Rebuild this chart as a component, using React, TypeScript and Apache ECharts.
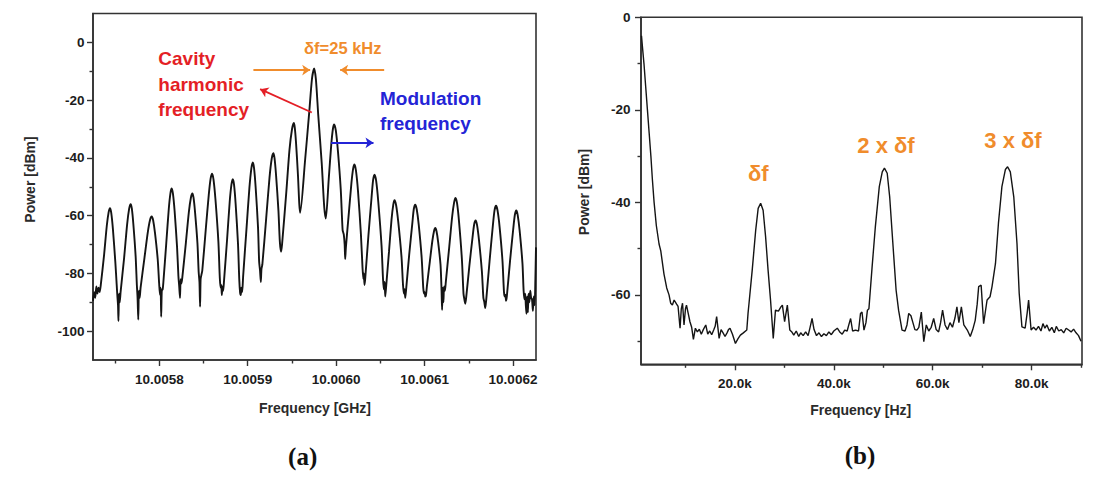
import { useEffect, useRef } from "react";
import * as echarts from "echarts";

// ---- Panel (a): RF spectrum around the cavity harmonic ----
// x values are kHz above 10 GHz, y values are dBm
const leftXTicks = ["10.0058", "10.0059", "10.0060", "10.0061", "10.0062"];
const leftXMinor = [5750, 5850, 5950, 6050, 6150];
const leftYTicks = [0, -20, -40, -60, -80, -100];
const leftYMinor = [-10, -30, -50, -70, -90];

const leftTrace: [number, number][] = [
  [5725, -89.5], [5726.3, -86.5], [5727.5, -88.5], [5728.8, -84.5], [5730, -87], [5731.3, -85], [5732.5, -86.5], [5733.8, -84],
  [5737.6, -73.4], [5740.6, -63.5], [5742.7, -58.8], [5744.2, -57.4], [5745.6, -59], [5747.5, -64.6], [5750.3, -76.3],
  [5751.8, -84], [5752.6, -88], [5753.3, -91], [5753.8, -96.5], [5754.4, -87], [5755.2, -90], [5756.2, -86.5],
  [5760.2, -74.6], [5763.6, -63], [5765.9, -57.6], [5767.6, -56], [5768.9, -57.5], [5770.6, -62.8], [5773.2, -74],
  [5774.6, -84], [5775.4, -88.5], [5776.2, -96], [5776.9, -86], [5777.8, -88.5], [5778.8, -85],
  [5783.2, -74.6], [5787.0, -65.7], [5789.5, -61.5], [5791.4, -60.3], [5793.0, -61.6], [5795.1, -66], [5798.2, -75.2],
  [5799.8, -83.5], [5800.8, -87.5], [5801.5, -85], [5802.1, -95], [5802.8, -86], [5803.8, -85.5], [5804.6, -83],
  [5807.9, -69.4], [5810.7, -57.7], [5812.6, -52.2], [5814, -50.6], [5815.4, -52.4], [5817.3, -58.4], [5820.1, -71.1],
  [5821.6, -81], [5822.5, -84.5], [5823.4, -88.5], [5824.1, -82], [5825, -83.5], [5826, -81.5],
  [5830, -69.5], [5833.4, -58.8], [5835.7, -53.8], [5837.4, -52.3], [5838.7, -53.8], [5840.4, -58.8], [5843.1, -69.5],
  [5844.5, -79.5], [5845.4, -83], [5846.1, -91.5], [5846.7, -82], [5847.6, -80.5], [5848.6, -79],
  [5852.5, -64.9], [5855.9, -52.9], [5858, -47.2], [5859.7, -45.5], [5861.3, -47.5], [5863.5, -54.4], [5866.8, -69],
  [5868.4, -81.5], [5869.4, -85], [5870.1, -84], [5870.7, -87.5], [5871.4, -84.5], [5872.2, -86], [5873.2, -82.5],
  [5876.7, -68], [5879.6, -55.2], [5881.6, -49.2], [5883.1, -47.4], [5884.5, -49.3], [5886.3, -55.9], [5889, -69.8],
  [5890.4, -82], [5891.3, -86.5], [5892.1, -87.5], [5892.8, -85], [5893.7, -86.5], [5894.8, -81],
  [5898.6, -64.5], [5901.9, -50.3], [5904.1, -43.6], [5905.7, -41.6], [5907.1, -43.5], [5908.9, -50], [5911.6, -63.9],
  [5912.9, -76], [5913.9, -79], [5914.8, -83], [5915.5, -78.5], [5916.5, -77],
  [5920.9, -60.8], [5924.6, -46.9], [5927.1, -40.3], [5929, -38.4], [5930.3, -40.1], [5932, -45.9], [5934.7, -58.2],
  [5936.3, -69], [5937.7, -72.5], [5938.8, -70],
  [5943.5, -52.3], [5947.2, -37.2], [5950.1, -30], [5952.1, -27.9], [5953.2, -29.5], [5954.6, -34.7], [5956.8, -46],
  [5958.3, -56], [5959.3, -59],
  [5964.8, -41], [5969.6, -24], [5972.7, -12.5], [5975.1, -9], [5977.1, -12.8], [5979.7, -25], [5983.7, -42],
  [5986.5, -57], [5988.3, -61],
  [5991.6, -47.3], [5994.4, -35.6], [5996.3, -30], [5997.7, -28.4], [5999.6, -30.5], [6002.1, -38], [6005.2, -51],
  [6007.3, -65], [6008.6, -66.5], [6009.6, -70], [6010.2, -75], [6011, -71],
  [6014.4, -58.9], [6017.3, -48.6], [6019.2, -43.7], [6020.7, -42.3], [6022.4, -44.4], [6024.7, -51.5], [6028, -66.5],
  [6029.8, -78], [6030.8, -82], [6031.4, -80], [6032, -84], [6032.8, -82],
  [6036.5, -66.8], [6040, -53.8], [6041.8, -47.6], [6043.4, -45.8], [6045.2, -47.9], [6047.6, -55.1], [6051.3, -70.3],
  [6053, -82], [6054, -85.5], [6054.8, -83], [6055.5, -88], [6056.4, -85],
  [6059.8, -72.3], [6062.6, -61.4], [6064.6, -56.2], [6066, -54.7], [6067.8, -56.4], [6070.2, -62.1], [6073.9, -74.3],
  [6075.6, -84], [6076.6, -87], [6077.4, -85.5], [6078.1, -88.5], [6079, -86],
  [6082.6, -73.5], [6086.1, -62.8], [6087.8, -57.7], [6089.4, -56.2], [6091.1, -57.8], [6093.4, -63.2], [6096.7, -74.6],
  [6098.5, -85], [6099.5, -87], [6100.2, -86.5], [6100.7, -88], [6101.6, -87.5], [6102.6, -84.5],
  [6105.9, -76], [6108.8, -68.7], [6110.7, -65.3], [6112.1, -64.3], [6113.5, -65.4], [6115.3, -69.1], [6118, -76.9],
  [6119.2, -86], [6119.8, -92.7], [6120.5, -85], [6121.3, -90], [6122, -84.5], [6123, -86], [6124, -83],
  [6127.9, -70.8], [6131.2, -60.3], [6133.4, -55.4], [6135, -53.9], [6136.7, -55.7], [6138.9, -61.9], [6142.2, -75.1],
  [6144, -87], [6145, -89], [6146, -90.5], [6147, -88.5],
  [6150.7, -77.2], [6154.2, -67.6], [6156.1, -63], [6157.7, -61.7], [6159.3, -63.2], [6161.5, -68.4], [6164.8, -79.3],
  [6166.5, -88.5], [6167.6, -90], [6168.6, -92], [6169.6, -89.5],
  [6173.5, -75.7], [6177.1, -63.8], [6179.1, -58.2], [6180.8, -56.6], [6182.5, -58.2], [6184.8, -63.8], [6188.1, -75.7],
  [6189.8, -86.5], [6190.8, -88], [6191.5, -87.5], [6192.1, -89.5], [6193, -88],
  [6196.7, -75.5], [6200.2, -64.8], [6202.1, -59.7], [6203.7, -58.2], [6205.3, -59.8], [6207.5, -65.2], [6210.7, -76.6],
  [6212, -86], [6213, -89], [6213.8, -87], [6214.5, -91], [6215.2, -94], [6216, -88], [6216.8, -93.5], [6217.6, -87],
  [6218.5, -90], [6219.5, -86], [6220.5, -88.5], [6221.5, -89], [6222.5, -93], [6223.5, -88], [6224.5, -91],
  [6225.3, -82], [6226, -71],
];

// Annotation arrows of panel (a), in data units [kHz above 10 GHz, dBm]
const spacingArrowLeft: [number, number][] = [[5906.4, -9.6], [5970.6, -9.6]];
const spacingArrowRight: [number, number][] = [[6054.3, -9.6], [6004.5, -9.6]];
const cavityArrow: [number, number][] = [[5972.5, -24.3], [5914, -16.2]];
const modulationArrow: [number, number][] = [[5994.3, -34.8], [6042.2, -34.8]];

// ---- Panel (b): low-frequency spectrum, Hz vs dBm ----
const rightXTicks = ["20.0k", "40.0k", "60.0k", "80.0k"];
const rightXMinor = [10000, 30000, 50000, 70000, 90000];
const rightYTicks = [0, -20, -40, -60];
const rightYMinor = [-10, -30, -50, -70];

const rightTrace: [number, number][] = [
  [1100, -4], [1300, -6.5], [1600, -10], [1950, -15], [2300, -20], [2650, -25], [3000, -30], [3300, -35], [3650, -40],
  [4100, -45], [4650, -49], [5000, -50.5], [5650, -55.5], [6200, -58.5], [6670, -60], [7000, -61.8], [7350, -62.2],
  [7700, -61.1], [8200, -62], [8500, -62.5], [8900, -67.2], [9150, -63], [9400, -61.8], [9700, -66.5], [10000, -63],
  [10200, -62.2], [10550, -64], [10900, -65.8], [11250, -67], [11600, -69.6], [12000, -67.2], [12400, -68], [12800, -67.4],
  [13200, -68.5], [13600, -67.5], [14100, -66.5], [14500, -68.5], [14900, -67.8], [15300, -68.6], [15700, -67.6],
  [16000, -66.8], [16300, -64.7], [16800, -69.4], [17200, -67.5], [17600, -68.2], [18000, -69], [18400, -68.2],
  [18700, -67.5], [19000, -67.2], [19500, -68.5], [20100, -70.5], [20600, -69.5], [21100, -68.7], [21700, -68.2],
  [22400, -67.6], [22650, -64], [22850, -61.8], [23500, -54.6], [24200, -46], [24700, -41.3], [25200, -40.2],
  [25700, -41.7], [26200, -47.4], [26700, -54.6], [27200, -61.1], [27750, -69.4], [28200, -63.3], [28800, -63.5],
  [29300, -62.6], [29600, -62.2], [30050, -65.8], [30600, -62.2], [31100, -67.6], [31500, -68], [31900, -68.7],
  [32400, -67.8], [32900, -69], [33300, -68.2], [33800, -68.8], [34300, -68], [34800, -68.8], [35200, -67],
  [35600, -65.1], [36000, -67.5], [36500, -68.8], [37000, -68.2], [37500, -69], [38000, -68.4], [38500, -68.8],
  [39000, -68], [39500, -68.6], [40000, -67.8], [40700, -67.2], [41200, -68], [41700, -68.5], [42200, -67.6],
  [42700, -67.8], [43100, -66.2], [43400, -65.1], [43800, -67.8], [44400, -67.6], [45000, -67.8], [45400, -64],
  [45700, -63.7], [46100, -67.6], [46500, -66], [46800, -63.3], [47100, -63], [47750, -53.9], [48400, -45.3],
  [49200, -36.6], [49800, -33.4], [50240, -32.6], [50800, -33.7], [51300, -38.8], [51900, -48.2], [52600, -59],
  [53100, -63.3], [53800, -67.6], [54400, -67.8], [54800, -66.5], [55150, -64], [55600, -64.5], [56000, -66],
  [56400, -67.5], [56800, -67.6], [57200, -67], [57700, -63.7], [58200, -70.1], [58700, -66.5], [59200, -67.8],
  [59700, -67], [60200, -65.1], [60700, -67.5], [61200, -68], [61600, -66], [62000, -63.3], [62500, -66.5],
  [63000, -67.5], [63500, -66], [64000, -67], [64500, -65], [64900, -62.6], [65300, -66], [65800, -62.6],
  [66300, -66.5], [67000, -67.6], [67600, -69], [68100, -67.5], [68600, -65.5], [69000, -62], [69300, -58.2],
  [69800, -57.9], [70300, -66.2], [71000, -61.1], [71600, -60.4], [72000, -58.2], [72700, -53.2], [73300, -44.5],
  [74000, -36.6], [74700, -32.9], [75150, -32.3], [75700, -33.4], [76400, -38.8], [77050, -48.9], [77500, -59.7],
  [78050, -66.9], [78700, -67.2], [79100, -64], [79400, -61.1], [79900, -67.6], [80400, -67], [80900, -67.6],
  [81400, -66.8], [81900, -67.8], [82300, -66.2], [82700, -67.2], [83100, -66.5], [83600, -67.8], [84100, -67],
  [84600, -68.2], [85000, -66.8], [85500, -67.8], [86000, -67.5], [86500, -68.2], [87000, -67.2], [87500, -67.6],
  [88000, -68], [88500, -67.4], [89000, -68.2], [89500, -68.8], [90000, -70],
];

const AXIS_COLOR = "#333333";
const LABEL_COLOR = "#1c1c1c";
const SANS = '"Liberation Sans", Arial, sans-serif';
const SERIF = '"Liberation Serif", "Times New Roman", serif';
const ORANGE = "#f08c2c";
const RED = "#e41f26";
const BLUE = "#2424d6";

const leftXValues = leftXTicks.map((s) => Math.round((parseFloat(s) - 10) * 1e6));
const rightXValues = rightXTicks.map((s) => parseFloat(s) * 1000);

const labelStyle = {
  color: LABEL_COLOR,
  fontFamily: SANS,
  fontWeight: "bold" as const,
  fontSize: 13.5,
};

function majorAxis(
  gridIndex: number,
  position: string,
  min: number,
  max: number,
  values: number[],
  margin: number,
  formatter?: (v: number) => string,
) {
  return {
    type: "value",
    gridIndex,
    position,
    min,
    max,
    axisLine: { show: true, onZero: false, lineStyle: { color: AXIS_COLOR, width: 1.6 } },
    axisTick: { show: true, customValues: values, length: 6, lineStyle: { color: AXIS_COLOR, width: 1.4 } },
    axisLabel: { customValues: values, margin, formatter, ...labelStyle },
    splitLine: { show: false },
  };
}

// A second axis on the same side that only carries the short intermediate ticks
function minorAxis(gridIndex: number, position: string, min: number, max: number, values: number[]) {
  return {
    type: "value",
    gridIndex,
    position,
    min,
    max,
    axisLine: { show: false, onZero: false },
    axisTick: { show: true, customValues: values, length: 3.5, lineStyle: { color: AXIS_COLOR, width: 1.4 } },
    axisLabel: { show: false },
    splitLine: { show: false },
  };
}

function text(x: number, y: number, str: string, font: string, fill: string, align = "center", rotation = 0) {
  return {
    type: "text",
    x,
    y,
    rotation,
    silent: true,
    style: {
      text: str,
      font,
      fill,
      align,
      verticalAlign: "middle",
      textAlign: align,
      textVerticalAlign: "middle",
    },
  };
}

function arrowSeries(coords: [number, number][], color: string) {
  return {
    type: "lines",
    coordinateSystem: "cartesian2d",
    xAxisIndex: 0,
    yAxisIndex: 0,
    symbol: ["none", "arrow"],
    symbolSize: 8,
    silent: true,
    lineStyle: { color, width: 1.8, opacity: 1 },
    itemStyle: { color },
    data: [{ coords }],
    z: 5,
  };
}

export default function App() {
  const ref = useRef<HTMLDivElement>(null);

  useEffect(() => {
    if (!ref.current) return;
    const chart = echarts.init(ref.current, undefined, { renderer: "svg" });

    chart.setOption({
      animation: false,
      backgroundColor: "#ffffff",
      grid: [
        { left: 93, top: 13.5, width: 443, height: 346.5, show: true, borderColor: AXIS_COLOR, borderWidth: 1.6, backgroundColor: "transparent" },
        { left: 641, top: 17.3, width: 441, height: 347, show: true, borderColor: AXIS_COLOR, borderWidth: 1.6, backgroundColor: "transparent" },
      ],
      xAxis: [
        majorAxis(0, "bottom", 5725, 6226, leftXValues, 12.5, (v: number) => (10 + v / 1e6).toFixed(4)),
        minorAxis(0, "bottom", 5725, 6226, leftXMinor),
        majorAxis(1, "bottom", 1000, 90200, rightXValues, 12.5, (v: number) => (v / 1000).toFixed(1) + "k"),
        minorAxis(1, "bottom", 1000, 90200, rightXMinor),
      ],
      yAxis: [
        majorAxis(0, "left", -110, 10, leftYTicks, 8.5),
        minorAxis(0, "left", -110, 10, leftYMinor),
        majorAxis(1, "left", -75, 0, rightYTicks, 10.5),
        minorAxis(1, "left", -75, 0, rightYMinor),
      ],
      series: [
        {
          name: "RF spectrum",
          type: "line",
          xAxisIndex: 0,
          yAxisIndex: 0,
          data: leftTrace,
          showSymbol: false,
          smooth: 0.25,
          lineStyle: { color: "#141414", width: 1.9 },
          z: 3,
        },
        {
          name: "Beat spectrum",
          type: "line",
          xAxisIndex: 2,
          yAxisIndex: 2,
          data: rightTrace,
          showSymbol: false,
          lineStyle: { color: "#141414", width: 1.4 },
          z: 3,
        },
        arrowSeries(spacingArrowLeft, ORANGE),
        arrowSeries(spacingArrowRight, ORANGE),
        arrowSeries(cavityArrow, RED),
        arrowSeries(modulationArrow, BLUE),
      ],
      graphic: [
        // axis titles
        text(29.8, 179.5, "Power [dBm]", `bold 14px ${SANS}`, "#2a2a2a", "center", Math.PI / 2),
        text(315, 408, "Frequency [GHz]", `bold 14px ${SANS}`, "#2a2a2a"),
        text(583.5, 192, "Power [dBm]", `bold 14px ${SANS}`, "#2a2a2a", "center", Math.PI / 2),
        text(860.7, 410, "Frequency [Hz]", `bold 14px ${SANS}`, "#2a2a2a"),
        // panel captions
        text(302.7, 456.5, "(a)", `bold 25px ${SERIF}`, "#111111"),
        text(860, 455.5, "(b)", `bold 25px ${SERIF}`, "#111111"),
        // panel (a) annotations
        text(342.8, 47.7, "δf=25 kHz", `bold 16.5px ${SANS}`, ORANGE),
        text(158.3, 58.3, "Cavity", `bold 19px ${SANS}`, RED, "left"),
        text(158.3, 84, "harmonic", `bold 19px ${SANS}`, RED, "left"),
        text(158.3, 109.3, "frequency", `bold 19px ${SANS}`, RED, "left"),
        text(380, 98.3, "Modulation", `bold 19px ${SANS}`, BLUE, "left"),
        text(380, 123.3, "frequency", `bold 19px ${SANS}`, BLUE, "left"),
        // panel (b) annotations
        text(758.3, 173.3, "δf", `bold 22px ${SANS}`, ORANGE),
        text(886, 145, "2 x δf", `bold 22px ${SANS}`, ORANGE),
        text(1013, 140, "3 x δf", `bold 22px ${SANS}`, ORANGE),
      ],
    });

    return () => chart.dispose();
  }, []);

  return (
    <div
      ref={ref}
      style={{ position: "fixed", left: 0, top: 0, width: 1102, height: 483, background: "#ffffff" }}
    />
  );
}
